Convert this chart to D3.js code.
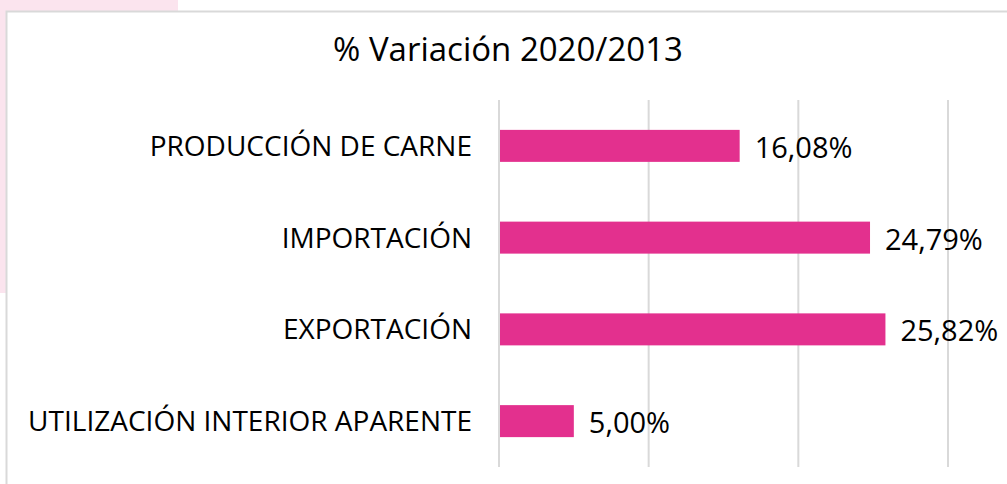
<!DOCTYPE html>
<html>
<head>
<meta charset="utf-8">
<script src="https://cdn.jsdelivr.net/npm/d3@7"></script>
<style>
  html, body { margin: 0; padding: 0; background: #fff; }
  svg { display: block; }
  text { font-family: "Open Sans", "Noto Sans", sans-serif; fill: #000; }
</style>
</head>
<body>
<script>
let categories = ["PRODUCCIÓN DE CARNE", "IMPORTACIÓN", "EXPORTACIÓN", "UTILIZACIÓN INTERIOR APARENTE"];
let values = [16.08, 24.79, 25.82, 5.00];
let valueLabels = ["16,08%", "24,79%", "25,82%", "5,00%"];
let gridTicks = [0, 10, 20, 30];
let title = "% Variación 2020/2013";

let width = 1007;
let height = 484;

let svg = d3.select('body')
  .append('svg')
  .attr("width", width)
  .attr("height", height);

// pink page area behind the chart box
svg.append("rect")
  .attr("x", 0).attr("y", 0)
  .attr("width", 178).attr("height", 12)
  .attr("fill", "#fbe4ee");
svg.append("rect")
  .attr("x", 0).attr("y", 0)
  .attr("width", 6).attr("height", 293)
  .attr("fill", "#fbe4ee");

// chart box
svg.append("rect")
  .attr("x", 6.5).attr("y", 11.5)
  .attr("width", 1020).attr("height", 500)
  .attr("fill", "#fff")
  .attr("stroke", "#d9d9d9")
  .attr("stroke-width", 2);

svg.append("text")
  .attr("x", 508)
  .attr("y", 61)
  .attr("text-anchor", "middle")
  .attr("font-size", 33)
  .text(title);

let x = d3.scaleLinear()
  .domain([0, 30])
  .range([499, 948]);

let y = d3.scaleBand()
  .domain(categories)
  .range([100, 467]);

let barH = 32;

// gridlines
svg.append("g")
  .selectAll("line")
  .data(gridTicks)
  .join("line")
  .attr("x1", d => x(d))
  .attr("x2", d => x(d))
  .attr("y1", 100)
  .attr("y2", 467)
  .attr("stroke", "#d9d9d9")
  .attr("stroke-width", 2);

// bars
svg.append("g")
  .selectAll("rect")
  .data(values)
  .join("rect")
  .attr("x", x(0) + 1)
  .attr("y", (d, i) => y(categories[i]) + y.bandwidth() / 2 - barH / 2)
  .attr("width", d => x(d) - x(0) - 1)
  .attr("height", barH)
  .attr("fill", "#e3308e");

// category labels
svg.append("g")
  .selectAll("text")
  .data(categories)
  .join("text")
  .attr("x", 472)
  .attr("y", d => y(d) + y.bandwidth() / 2 + 10)
  .attr("text-anchor", "end")
  .attr("font-size", 28)
  .text(d => d);

// value labels
svg.append("g")
  .selectAll("text")
  .data(values)
  .join("text")
  .attr("x", d => x(d) + 15)
  .attr("y", (d, i) => y(categories[i]) + y.bandwidth() / 2 + 12)
  .attr("font-size", 29)
  .text((d, i) => valueLabels[i]);
</script>
</body>
</html>
